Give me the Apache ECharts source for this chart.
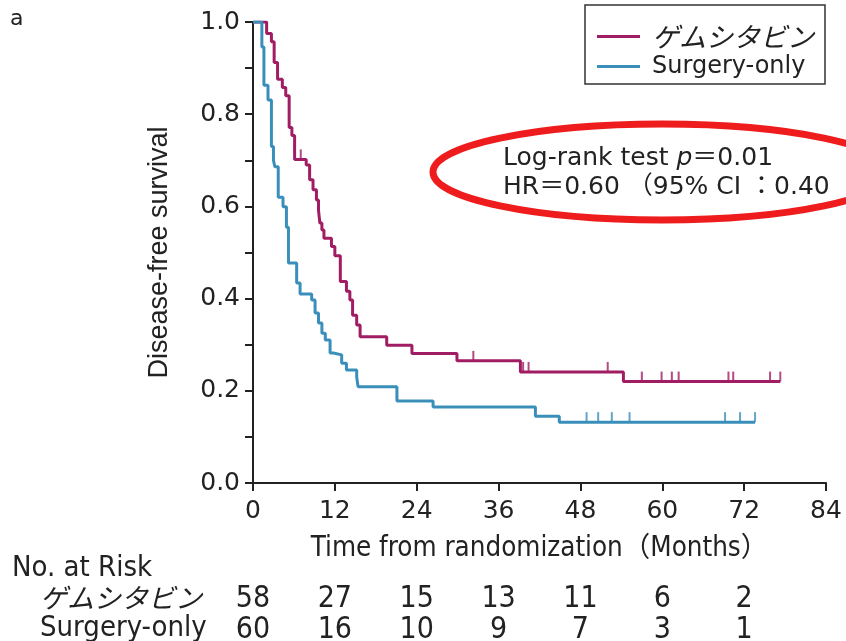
<!DOCTYPE html>
<html>
<head>
<meta charset="utf-8">
<script src="https://cdn.jsdelivr.net/npm/echarts@6/dist/echarts.min.js"></script>
<style>html,body{margin:0;padding:0;background:#fff}#c{width:846px;height:641px}</style>
</head>
<body>
<div id="c"></div>
<script>
// ---- data ----
const gemName = 'ゲムシタビン';
const surName = 'Surgery-only';
const gemTimes = [0, 2.0, 2.7, 3.1, 3.6, 4.3, 4.8, 5.3, 5.7, 6.1, 7.8, 8.3, 8.8, 9.3, 9.6, 9.8, 10.1, 10.4, 11.5, 12.0, 12.8, 13.7, 14.2, 14.6, 15.2, 15.7, 19.6, 23.3, 29.9, 39.2, 54.3, 77.3];
const gemSurv  = [1.0, 0.975, 0.957, 0.912, 0.876, 0.858, 0.840, 0.771, 0.754, 0.702, 0.690, 0.658, 0.636, 0.614, 0.592, 0.564, 0.549, 0.531, 0.513, 0.493, 0.437, 0.416, 0.397, 0.364, 0.343, 0.317, 0.299, 0.281, 0.265, 0.241, 0.220, 0.220];
const gemCensor = [7.0, 32.3, 39.6, 40.4, 52.0, 57.0, 59.9, 61.4, 62.4, 69.7, 70.4, 75.8, 77.3];
const surTimes = [0, 1.3, 1.6, 2.2, 2.7, 3.0, 3.2, 3.7, 4.4, 4.9, 5.2, 6.4, 6.9, 8.6, 9.1, 9.6, 10.1, 10.6, 11.3, 11.8, 13.0, 13.7, 15.2, 15.4, 21.1, 26.4, 41.4, 44.9, 73.6];
const surSurv  = [1.0, 0.946, 0.863, 0.831, 0.730, 0.700, 0.686, 0.620, 0.599, 0.555, 0.477, 0.434, 0.410, 0.397, 0.369, 0.347, 0.325, 0.310, 0.282, 0.278, 0.260, 0.245, 0.230, 0.209, 0.178, 0.165, 0.145, 0.132, 0.132];
const surCensor = [48.9, 50.6, 52.6, 55.2, 69.2, 71.4, 73.6];
const riskTicks = [0, 12, 24, 36, 48, 60, 72];
const gemRisk = [58, 27, 15, 13, 11, 6, 2];
const surRisk = [60, 16, 10, 9, 7, 3, 1];

const gemColor = '#a11d63';
const surColor = '#3a8fba';
const narrow = '"Liberation Sans Narrow","DejaVu Sans Condensed","Noto Sans CJK JP",sans-serif';
const wide = '"DejaVu Sans","Noto Sans CJK JP",sans-serif';
const sans = '"Liberation Sans","Noto Sans CJK JP",sans-serif';
const jp = '"Noto Sans CJK JP",sans-serif';

function pairs(t, s) { return t.map((v, i) => [v, s[i]]); }
function levelAt(t, s, x) {
  let v = s[0];
  for (let i = 0; i < t.length; i++) { if (t[i] <= x) v = s[i]; }
  return v;
}
function riskAxis(values, offset) {
  return {
    type: 'value', position: 'bottom', gridIndex: 0, offset: offset,
    min: 0, max: 84, interval: 12,
    axisLine: {show: false}, axisTick: {show: false}, splitLine: {show: false},
    axisLabel: {
      margin: 0, verticalAlign: 'middle', fontFamily: narrow, fontSize: 30, color: '#222',
      formatter: v => { const i = riskTicks.indexOf(v); return i >= 0 ? String(values[i]) : ''; }
    }
  };
}

const chart = echarts.init(document.getElementById('c'), null, {renderer: 'canvas'});
chart.setOption({
  animation: false,
  backgroundColor: '#fff',
  grid: {left: 253, right: 20, top: 22, bottom: 158, containLabel: false, outerBoundsMode: 'none'},
  legend: {
    data: [gemName, surName],
    orient: 'vertical', left: 585, top: 5,
    borderColor: '#333', borderWidth: 1.5,
    padding: [18, 11, 4, 12], itemGap: 3,
    itemWidth: 43, itemHeight: 3, icon: 'rect',
    textStyle: {fontFamily: wide, fontSize: 24, lineHeight: 27, color: '#222', padding: [0, 0, 0, 7],
      rich: {jp: {fontFamily: jp, fontStyle: 'italic', fontSize: 27, lineHeight: 27, color: '#222'}}},
    formatter: n => n === gemName ? '{jp|' + n + '}' : n
  },
  xAxis: [
    {
      type: 'value', min: 0, max: 84, interval: 12,
      name: 'Time from randomization（Months）', nameLocation: 'middle', nameGap: 52,
      nameTextStyle: {fontFamily: narrow, fontSize: 27.5, color: '#222'},
      axisLine: {lineStyle: {color: '#222', width: 2}},
      axisTick: {length: 8, lineStyle: {color: '#222', width: 2}},
      axisLabel: {margin: 16, fontFamily: wide, fontSize: 25, color: '#222'},
      splitLine: {show: false}
    },
    riskAxis(gemRisk, 116),
    riskAxis(surRisk, 147)
  ],
  yAxis: {
    type: 'value', min: 0, max: 1, interval: 0.1,
    name: 'Disease-free survival', nameLocation: 'middle', nameGap: 80,
    nameTextStyle: {fontFamily: sans, fontSize: 27, color: '#222'},
    axisLine: {show: true, lineStyle: {color: '#222', width: 2}},
    axisTick: {length: 8, lineStyle: {color: '#222', width: 2}},
    axisLabel: {margin: 13, fontFamily: wide, fontSize: 25, color: '#222',
      formatter: v => { const k = Math.round(v * 10); return k % 2 === 0 ? (k / 10).toFixed(1) : ''; }},
    splitLine: {show: false}
  },
  series: [
    {name: gemName, type: 'line', step: 'end', symbol: 'none', data: pairs(gemTimes, gemSurv),
     lineStyle: {color: gemColor, width: 3}, itemStyle: {color: gemColor}, z: 3},
    {name: surName, type: 'line', step: 'end', symbol: 'none', data: pairs(surTimes, surSurv),
     lineStyle: {color: surColor, width: 3}, itemStyle: {color: surColor}, z: 3},
    {name: 'gemCensor', type: 'scatter', symbol: 'rect', symbolSize: [2, 10], symbolOffset: [0, -5],
     data: gemCensor.map(x => [x, levelAt(gemTimes, gemSurv, x)]), itemStyle: {color: gemColor}, z: 4},
    {name: 'surCensor', type: 'scatter', symbol: 'rect', symbolSize: [2, 10], symbolOffset: [0, -5],
     data: surCensor.map(x => [x, levelAt(surTimes, surSurv, x)]), itemStyle: {color: surColor}, z: 4}
  ],
  graphic: [
    {type: 'text', left: 10, top: 8, style: {text: 'a', fontFamily: wide, fontSize: 22, fill: '#222'}},
    {type: 'text', left: 503, top: 144, style: {
      text: 'Log-rank test {i|p}＝0.01\nHR＝0.60 （95% CI ：0.40',
      fontFamily: wide, fontSize: 25, lineHeight: 29, fill: '#222',
      rich: {i: {fontStyle: 'italic', fontFamily: wide, fontSize: 25, lineHeight: 29, fill: '#222'}}}},
    {type: 'ellipse', shape: {cx: 662, cy: 172, rx: 229, ry: 48},
     style: {fill: 'none', stroke: '#ee1c1c', lineWidth: 7}, z: 10},
    {type: 'text', left: 12, top: 554, style: {text: 'No. at Risk', fontFamily: narrow, fontSize: 29, fill: '#222'}},
    {type: 'text', left: 40, top: 584, style: {text: gemName, fontFamily: jp, fontStyle: 'italic', fontSize: 27, fill: '#222'}},
    {type: 'text', left: 40, top: 614, style: {text: surName, fontFamily: narrow, fontSize: 29, fill: '#222'}}
  ]
});
</script>
</body>
</html>
